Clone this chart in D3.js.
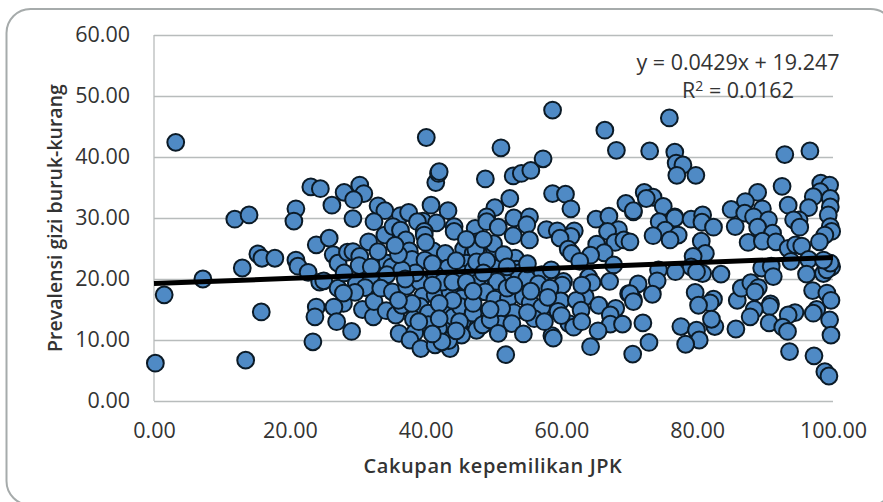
<!DOCTYPE html>
<html>
<head>
<meta charset="utf-8">
<script src="https://cdn.jsdelivr.net/npm/d3@7"></script>
<style>
body { margin: 0; background: #fff; overflow: hidden; }
svg { display: block; }
text { font-family: "Open Sans", sans-serif; fill: #333; }
</style>
</head>
<body>
<svg id="chart" width="883" height="502"></svg>
<script>
/* Cakupan kepemilikan JPK, one value per kabupaten */
var coverage = [
	0.2, 1.5, 3.2, 7.2, 11.9, 13.5, 13, 14, 15.3, 15.9,
	15.8, 17.8, 20.9, 20.6, 20.9, 21.2, 22.7, 23.9, 23.7, 23.4,
	23.1, 24.5, 23.9, 24.4, 28, 30.3, 30.9, 29.4, 26.2, 29.3,
	33, 34, 32.4, 36.3, 37.5, 40.8, 43.3, 41.5, 41.9, 42,
	39.6, 38.8, 41.6, 44.2, 44.2, 39.8, 39.8, 34, 35.2, 36.3,
	37.1, 31.6, 25.8, 26.4, 27.1, 28.5, 29.3, 30.3, 30.2, 33.1,
	34.3, 35, 34.3, 31.9, 37.6, 38, 41.1, 42.9, 39.9, 43.3,
	45.6, 47, 47.3, 47.4, 46, 41.4, 45.6, 47, 25, 27.1,
	29.8, 31.1, 29.6, 27.9, 26.5, 26.9, 29.1, 30.7, 32.3, 32.4,
	33.4, 35.1, 34.2, 35.6, 36.5, 37.2, 39.1, 39.6, 41.4, 39.2,
	43.6, 46.2, 45.3, 43, 40.4, 38.2, 43.4, 41.9, 40.4, 46.6,
	47.8, 47.5, 45.3, 36.1, 38.4, 37.7, 39.3, 41.4, 43.6, 43.4,
	42.4, 44.1, 45.1, 48, 27.9, 47.5, 48.8, 52.9, 54.1, 55.5,
	58.7, 60.6, 61.4, 52.4, 50.2, 49, 49, 50.7, 53, 55.3,
	54.9, 52.9, 55.3, 57.8, 59.4, 61.9, 61.4, 59.8, 61, 61.5,
	69.5, 70.6, 65.1, 67, 68.4, 66.8, 67.9, 69.2, 65.2, 66.3,
	64.3, 62.7, 67.7, 50.1, 50, 47.4, 47.5, 53.2, 50.2, 53.4,
	53.7, 51.4, 50.5, 57.1, 54.9, 56.6, 60.3, 60.1, 64, 64.5,
	67.1, 69.9, 70.6, 47.5, 48.8, 50.2, 52.2, 54.4, 55.4, 57.1,
	58.3, 59.9, 63.5, 62.2, 59.5, 62.9, 65.5, 68, 67.2, 67.2,
	69, 53, 51.2, 47, 48.4, 51.1, 49.5, 52.7, 50.7, 54.4,
	61.1, 61.8, 65.4, 58.6, 58.8, 64.3, 51.8, 58.7, 66.4, 40.1,
	51.1, 57.3, 75.9, 68.1, 73, 76.7, 76.9, 77.9, 77, 79.8,
	92.9, 96.6, 92.5, 98.2, 99.5, 98.1, 97.1, 99.6, 88.9, 87.1,
	93.4, 96.4, 99.6, 99.3, 89.6, 85, 87, 88.3, 90.5, 95,
	94.2, 95.1, 85.6, 88.9, 91.1, 99.6, 99.8, 98.8, 98, 87.5,
	89.6, 91.6, 93.4, 94.5, 95.4, 72.2, 73.5, 72.5, 75, 70.6,
	74.4, 76.7, 76.7, 75.3, 73.5, 77.2, 76, 79.1, 80.8, 80.7,
	82.4, 80.6, 81.2, 79.4, 79.1, 74.3, 76.8, 80.8, 83.5, 79.9,
	89.5, 90.9, 91.2, 93.8, 96.4, 96.1, 98.6, 99.8, 99.1, 99.6,
	98.6, 74.1, 71.3, 70.1, 70.6, 73.4, 79.7, 82.4, 81.9, 80.2,
	85.9, 86.5, 87.9, 89, 88.5, 90.8, 90.7, 88.4, 87.8, 90.6,
	94.4, 93.4, 92.6, 93.3, 97, 99.1, 99.7, 97.6, 97.1, 99.5,
	99.7, 72, 77.6, 79.9, 82.6, 82.1, 85.7, 80.3, 78.3, 72.9,
	70.5, 93.6, 97.2, 98.8, 99.4, 70.1,
	40, 41, 42.5, 44, 44.5, 38.5, 36.5, 36, 35.5, 33,
	46, 48.5, 49, 48.5, 46, 44, 42, 41, 38, 37,
	51.5, 52, 52, 49.5, 47, 47, 55, 55.5, 53, 58,
	60, 56, 55, 57.5, 63, 63, 45, 42, 36, 39,
	41, 44.5, 32, 28, 58.5
];
/* Prevalensi gizi buruk-kurang, same order as coverage */
var prevalence = [
	6.2, 17.4, 42.4, 20, 29.8, 6.7, 21.8, 30.5, 24.1, 23.4,
	14.6, 23.4, 31.5, 29.5, 23.1, 22.1, 21.1, 15.4, 13.8, 9.7,
	35.1, 34.8, 25.6, 19.5, 34.2, 35.4, 34, 33, 32.1, 29.9,
	32, 31.2, 29.4, 30.4, 30.9, 32.1, 31.2, 35.8, 37.3, 37.6,
	29.5, 29.4, 29.2, 28.6, 27.8, 27.8, 27.2, 27.2, 28.6, 28,
	26.4, 26.1, 26.7, 24, 22.6, 24.4, 24.5, 23.7, 22.2, 22.6,
	22.6, 22, 20.7, 20.4, 24.6, 23.2, 24.6, 24.2, 23.1, 21.8,
	24.9, 24.2, 28.3, 23, 22.6, 20.8, 20.8, 21.5, 19.7, 18.5,
	19.3, 18.6, 17.8, 16, 15.4, 13, 11.4, 15, 13.8, 16.3,
	18.5, 17.9, 14.8, 14.1, 15.7, 18.8, 19.6, 17.2, 17.4, 15.5,
	17.9, 17.9, 16.8, 15, 14.4, 13.4, 12.8, 11.9, 12.5, 13.4,
	12.5, 11.6, 10.8, 11.1, 11.2, 10, 8.6, 9.2, 8.6, 9.9,
	9.7, 13.8, 15.5, 19.6, 17.7, 26.1, 36.4, 36.9, 37.3, 37.8,
	34, 33.9, 31.5, 33.2, 31.7, 30.2, 29.4, 28.5, 30, 30.2,
	28.9, 27.1, 26.4, 28.1, 27.9, 27.9, 27, 26.7, 24.9, 24.2,
	32.4, 31, 29.8, 30.3, 28.1, 27.8, 26, 26.4, 25.7, 24.3,
	23.9, 22.9, 22.3, 24.9, 25.8, 24.8, 22.8, 23.4, 21.8, 21.6,
	21, 20, 19.6, 20.7, 20.1, 19.2, 19.6, 19, 20.3, 19.4,
	19.6, 17.6, 16.6, 19.3, 17.9, 16.7, 16.8, 17.1, 16.1, 15.4,
	18.5, 16.4, 17.1, 16.5, 14.7, 14.9, 15.7, 15.2, 14.1, 12.6,
	12.6, 14.5, 15.2, 14.4, 12.5, 12.6, 13.3, 12.7, 11.1, 11,
	12.7, 12.1, 11.5, 10.7, 10.3, 8.9, 7.6, 47.7, 44.4, 43.2,
	41.5, 39.7, 46.4, 41.1, 41, 40.8, 39, 38.7, 37, 37,
	40.4, 41, 35.2, 35.7, 35.4, 34.3, 33.5, 33.2, 34.2, 32.7,
	32.1, 31.7, 31.8, 30.5, 31.5, 31.4, 30.8, 30.2, 29.7, 29.7,
	29.7, 28.5, 28.6, 28.5, 27.5, 28.6, 27.8, 27.2, 26.1, 26,
	26.2, 26.1, 25, 25.6, 25.4, 34.2, 33.4, 33.2, 31.9, 31.2,
	29.4, 30.2, 30, 28, 27.1, 27.2, 26.4, 29.8, 30.5, 29.3,
	28.5, 26.2, 24.2, 23.7, 22, 21.5, 21.2, 20.9, 20.8, 21.2,
	21.8, 22.1, 20.4, 22.9, 23.2, 20.8, 20.9, 22, 21.5, 22.6,
	23.1, 19.7, 19.2, 17.6, 16.3, 17.5, 17.8, 16.7, 16.1, 15.7,
	16.5, 18.5, 19.4, 18.6, 17.9, 15.9, 15.5, 15, 13.8, 12.8,
	14.5, 14.1, 12.1, 11.4, 18.1, 17.7, 16.5, 15, 14.4, 13.3,
	10.8, 12.8, 12.2, 11.6, 12.2, 13.4, 11.8, 10, 9.3, 9.6,
	7.7, 8.1, 7.4, 4.8, 4.1, 26.1,
	26, 22.5, 19.5, 19.5, 23, 21, 21.5, 24, 25.5, 24.5,
	26.5, 26.5, 23, 21, 19.5, 16.5, 16, 19, 16, 20,
	24, 22, 18.5, 15, 16, 18, 22.5, 18, 19, 17,
	14, 13.5, 14.5, 13, 19, 13, 13, 13.5, 16.5, 13,
	11, 11.5, 22, 21, 21.5
];
var xTicks = [0, 20, 40, 60, 80, 100];
var yTicks = [0, 10, 20, 30, 40, 50, 60];
var slope = 0.0429;
var intercept = 19.247;

var svg = d3.select("#chart");

/* outer chart frame, runs off the right and bottom of the picture */
svg.append("rect")
	.attr("x", 6.5)
	.attr("y", 9)
	.attr("width", 888)
	.attr("height", 496)
	.attr("rx", 24)
	.attr("fill", "#fff")
	.attr("stroke", "#a6abab")
	.attr("stroke-width", 2);

var x = d3.scaleLinear().domain([0, 100]).range([154, 833]);
var y = d3.scaleLinear().domain([0, 60]).range([401, 35]);

/* gridlines and y axis */
var yAxis = d3.axisLeft(y)
	.tickValues(yTicks)
	.tickSize(-679)
	.tickPadding(24)
	.tickFormat(d3.format(".2f"));

var gy = svg.append("g")
	.attr("transform", "translate(154,0)")
	.call(yAxis);
gy.select(".domain").remove();
gy.selectAll("line")
	.attr("stroke", "#b8bcbc")
	.attr("stroke-width", 1.3);
gy.selectAll("text")
	.attr("x", -24)
	.style("font-size", "21.5px");

svg.append("line")
	.attr("x1", 154)
	.attr("x2", 154)
	.attr("y1", 35)
	.attr("y2", 401)
	.attr("stroke", "#b8bcbc")
	.attr("stroke-width", 1.3);

/* x axis, labels only */
var xAxis = d3.axisBottom(x)
	.tickValues(xTicks)
	.tickSize(0)
	.tickPadding(22)
	.tickFormat(d3.format(".2f"));

var gx = svg.append("g")
	.attr("transform", "translate(0,401)")
	.call(xAxis);
gx.select(".domain").remove();
gx.selectAll("text")
	.style("font-size", "21.5px");

/* points */
svg.append("g")
	.selectAll("circle")
	.data(coverage)
	.enter()
	.append("circle")
	.attr("cx", function(d) { return x(d); })
	.attr("cy", function(d, i) { return y(prevalence[i]); })
	.attr("r", 8.4)
	.attr("fill", "#4f8ac5")
	.attr("stroke", "#0b1a26")
	.attr("stroke-width", 2);

/* trend line from the fit printed on the chart */
var trend = d3.line()
	.x(function(d) { return x(d); })
	.y(function(d) { return y(slope * d + intercept); });

svg.append("path")
	.datum([0, 100])
	.attr("d", trend)
	.attr("fill", "none")
	.attr("stroke", "#000")
	.attr("stroke-width", 5);

/* fit labels */
svg.append("text")
	.attr("x", 738)
	.attr("y", 70)
	.attr("text-anchor", "middle")
	.style("font-size", "21.5px")
	.text("y = 0.0429x + 19.247");

var r2 = svg.append("text")
	.attr("x", 738)
	.attr("y", 98)
	.attr("text-anchor", "middle")
	.style("font-size", "21.5px");
r2.append("tspan").text("R");
r2.append("tspan").attr("dy", -7).style("font-size", "14px").text("2");
r2.append("tspan").attr("dy", 7).text(" = 0.0162");

/* axis titles */
svg.append("text")
	.attr("x", 493)
	.attr("y", 473)
	.attr("text-anchor", "middle")
	.style("font-size", "20px")
	.style("font-weight", "600")
	.style("letter-spacing", "0.6px")
	.text("Cakupan kepemilikan JPK");

svg.append("text")
	.attr("transform", "translate(62,218) rotate(-90)")
	.attr("text-anchor", "middle")
	.style("font-size", "19.5px")
	.style("font-weight", "600")
	.text("Prevalensi gizi buruk-kurang");
</script>
</body>
</html>
